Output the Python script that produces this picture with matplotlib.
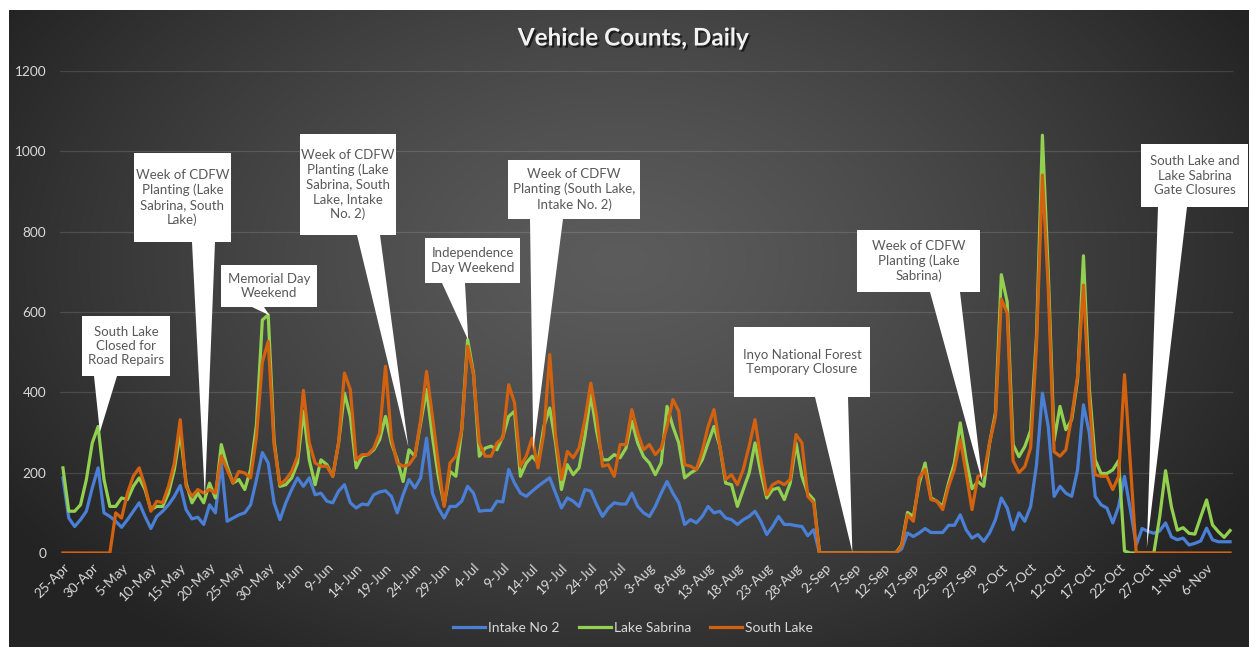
import datetime as dt
import numpy as np
import matplotlib
matplotlib.use("Agg")
import matplotlib.pyplot as plt
import matplotlib.patheffects as pe
from matplotlib.patches import Polygon
from matplotlib.lines import Line2D

W, H = 1249, 647

# ---- data: one value per day from 25-Apr to 10-Nov ----
start = dt.date(2021, 4, 25)

intake_no2 = [
    187, 87, 66, 83, 104, 162, 212, 100, 91, 79,
    64, 83, 104, 125, 91, 61, 91, 104, 120, 141,
    168, 108, 85, 89, 71, 120, 100, 224, 79, 87,
    95, 100, 120, 183, 250, 224, 125, 83, 125, 158,
    187, 166, 187, 145, 149, 129, 125, 154, 170, 125,
    112, 122, 120, 145, 152, 155, 141, 100, 145, 183,
    162, 187, 286, 149, 112, 87, 116, 116, 129, 166,
    149, 104, 106, 106, 129, 127, 208, 174, 149, 141,
    154, 166, 177, 187, 149, 112, 137, 129, 116, 158,
    154, 120, 91, 112, 125, 122, 122, 149, 116, 100,
    91, 116, 149, 178, 149, 125, 71, 83, 75, 91,
    116, 100, 104, 87, 83, 71, 83, 91, 104, 79,
    46, 66, 91, 71, 71, 68, 66, 43, 58, 0,
    0, 0, 0, 0, 0, 0, 0, 0, 0, 0,
    0, 0, 0, 10, 50, 41, 50, 61, 51, 51,
    51, 69, 69, 95, 58, 37, 46, 29, 50, 83,
    137, 112, 58, 100, 79, 116, 220, 398, 315, 141,
    166, 149, 141, 207, 369, 299, 141, 120, 112, 75,
    116, 191, 108, 20, 61, 54, 49, 55, 75, 40,
    33, 37, 20, 24, 30, 62, 33, 28, 28, 28,
]

lake_sabrina = [
    212, 104, 104, 120, 183, 274, 315, 183, 116, 116,
    137, 133, 166, 187, 158, 108, 116, 116, 149, 208,
    300, 174, 125, 149, 125, 174, 137, 270, 216, 174,
    183, 158, 208, 320, 580, 593, 280, 166, 170, 187,
    224, 353, 232, 170, 232, 220, 191, 274, 398, 340,
    212, 241, 245, 257, 282, 340, 274, 232, 178, 257,
    241, 324, 407, 290, 191, 120, 203, 191, 307, 531,
    448, 241, 261, 266, 257, 290, 340, 353, 191, 224,
    241, 224, 315, 361, 274, 158, 220, 195, 212, 290,
    394, 303, 232, 232, 245, 237, 261, 328, 274, 240,
    224, 195, 224, 365, 315, 274, 187, 199, 208, 232,
    274, 315, 266, 174, 170, 116, 158, 199, 274, 199,
    137, 158, 162, 133, 174, 274, 191, 149, 133, 0,
    0, 0, 0, 0, 0, 0, 0, 0, 0, 0,
    0, 0, 0, 20, 101, 91, 174, 224, 137, 129,
    116, 174, 224, 324, 232, 160, 178, 166, 274, 349,
    693, 625, 270, 240, 265, 305, 540, 1040, 700, 280,
    365, 307, 332, 432, 740, 410, 232, 198, 198, 207,
    230, 5, 0, 0, 0, 0, 0, 90, 205, 115,
    57, 63, 49, 47, 90, 132, 70, 53, 39, 56,
]

south_lake = [
    0, 0, 0, 0, 0, 0, 0, 0, 0, 100,
    87, 149, 191, 212, 166, 104, 129, 125, 166, 224,
    332, 166, 141, 158, 149, 158, 149, 241, 208, 174,
    203, 199, 187, 290, 475, 527, 270, 170, 183, 203,
    241, 405, 274, 224, 216, 216, 191, 274, 448, 407,
    232, 245, 245, 261, 299, 465, 286, 224, 216, 220,
    241, 332, 452, 340, 224, 116, 224, 241, 307, 515,
    444, 274, 241, 241, 274, 286, 419, 374, 216, 241,
    286, 212, 299, 494, 290, 183, 253, 237, 261, 332,
    423, 340, 216, 220, 191, 270, 270, 357, 299, 257,
    270, 245, 261, 315, 382, 353, 220, 216, 208, 253,
    315, 357, 266, 183, 195, 170, 208, 266, 332, 232,
    145, 170, 178, 170, 183, 295, 274, 141, 125, 0,
    0, 0, 0, 0, 0, 0, 0, 0, 0, 0,
    0, 0, 0, 17, 95, 79, 187, 208, 133, 129,
    108, 166, 208, 282, 199, 108, 191, 195, 274, 340,
    632, 598, 230, 200, 215, 262, 520, 941, 660, 252,
    241, 257, 340, 440, 667, 380, 195, 191, 191, 158,
    191, 444, 220, 0, 0, 0, 0, 0, 0, 0,
    0, 0, 0, 0, 0, 0, 0, 0, 0, 0,
]

series_names = ["Intake No 2", "Lake Sabrina", "South Lake"]
series_colors = ["#4a7fd6", "#92d050", "#d2620f"]

dates = [start + dt.timedelta(days=k) for k in range(len(intake_no2))]
tick_pos = list(range(0, len(dates), 5))
tick_labels = [f"{dates[k].day}-{dates[k].strftime('%b')}" for k in tick_pos]

# callouts: text, box (px, from top-left), wedge base x on box bottom (px), tip (day, value)
callouts = [
    ("South Lake\nClosed for\nRoad Repairs", (82, 316, 170, 376), (94, 117), (6.3, 301)),
    ("Week of CDFW\nPlanting (Lake\nSabrina, South\nLake)", (134, 153, 231, 242), (192, 215), (24.2, 139)),
    ("Memorial Day\nWeekend", (221, 265, 317, 307), (252, 264), (35.2, 592)),
    ("Week of CDFW\nPlanting (Lake\nSabrina, South\nLake, Intake\nNo. 2)", (300, 134, 396, 235), (357, 380), (58.9, 264)),
    ("Independence\nDay Weekend", (425, 238, 520, 283), (442, 465), (69.1, 530)),
    ("Week of CDFW\nPlanting (South Lake,\nIntake No. 2)", (508, 160, 640, 219), (530, 563), (80.2, 256)),
    ("Inyo National Forest\nTemporary Closure", (734, 327, 870, 397), (815, 848), (134.6, 2)),
    ("Week of CDFW\nPlanting (Lake\nSabrina)", (857, 230, 980, 292), (930, 960), (156.8, 174)),
    ("South Lake and\nLake Sabrina\nGate Closures", (1141, 144, 1248, 207), (1158, 1187), (184.8, 12)),
]

plt.rcParams["font.family"] = ["Lato", "DejaVu Sans"]

fig = plt.figure(figsize=(W / 100, H / 100), dpi=100)
fig.patch.set_facecolor("white")

# dark radial gradient chart area
bg = fig.add_axes([9 / W, 0, (W - 9) / W, (H - 10) / H])
gy, gx = np.mgrid[10:H, 9:W]
r = np.sqrt(((gx - 620) / 720.0) ** 2 + ((gy - 260) / 480.0) ** 2)
r = np.clip(r, 0, 1)
c_in, c_out = 0.36, 0.14
shade = c_in + (c_out - c_in) * r ** 1.3
bg.imshow(np.dstack([shade, shade, shade]), aspect="auto", interpolation="bilinear")
bg.set_axis_off()

ax = fig.add_axes([60 / W, (H - 553) / H, (1233 - 60) / W, (553 - 71) / H])
ax.set_facecolor("none")
x = np.arange(len(dates))
for vals, name, col in zip([intake_no2, lake_sabrina, south_lake], series_names, series_colors):
    ax.plot(x, vals, color=col, lw=2.3, label=name, solid_joinstyle="round")

ax.set_xlim(-0.5, len(dates) - 0.5)
ax.set_ylim(0, 1200)
ax.set_yticks(range(0, 1201, 200))
ax.set_xticks(tick_pos)
ax.set_xticklabels(tick_labels, rotation=45, ha="right", rotation_mode="anchor")
ax.tick_params(axis="both", length=0, colors="#d9d9d9", labelsize=9.8)
ax.tick_params(axis="y", pad=10)
ax.tick_params(axis="x", pad=6)
ax.grid(axis="y", color="white", alpha=0.13, lw=0.9)
for s in ax.spines.values():
    s.set_visible(False)

fig.text(633 / W, 1 - 38 / H, "Vehicle Counts, Daily", ha="center", va="center",
         fontsize=17.5, fontweight="bold", color="#f2f2f2",
         path_effects=[pe.withSimplePatchShadow(offset=(1.5, -1.5), shadow_rgbFace="black", alpha=0.6)])

handles = [Line2D([], [], color=c, lw=2.3) for c in series_colors]
fig.legend(handles, series_names, loc="center", bbox_to_anchor=(633 / W, 1 - 628 / H),
           ncol=3, frameon=False, fontsize=10, labelcolor="#d9d9d9",
           handlelength=2.3, handletextpad=0.2, columnspacing=1.4)

# callout shapes
for text, (x0, y0, x1, y1), (xa, xb), tip in callouts:
    tx, ty = ax.transData.transform(tip)
    pts = [(x0, H - y0), (x1, H - y0), (x1, H - y1), (xb, H - y1), (tx, ty),
           (xa, H - y1), (x0, H - y1)]
    pts = [(px / W, py / H) for px, py in pts]
    fig.patches.append(Polygon(pts, closed=True, transform=fig.transFigure,
                               facecolor="white", edgecolor="none", zorder=5))
    fig.text((x0 + x1) / 2 / W, 1 - (y0 + y1) / 2 / H, text, ha="center", va="center",
             multialignment="center", fontsize=9.5, color="#595959", linespacing=1.25, zorder=6)

fig.savefig("out.png", dpi=100)
